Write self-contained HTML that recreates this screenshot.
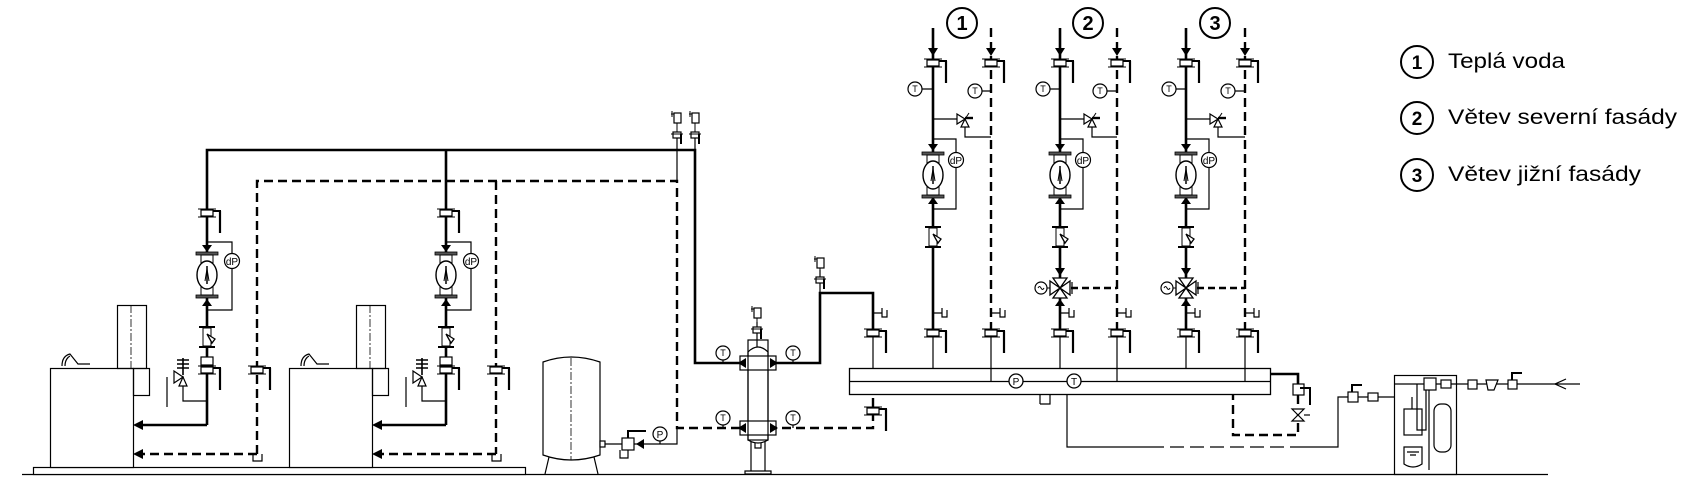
<!DOCTYPE html>
<html><head><meta charset="utf-8"><style>
html,body{margin:0;padding:0;background:#fff;}
svg{display:block;}
text{font-family:"Liberation Sans",Arial,sans-serif;}
</style></head><body>
<svg width="1696" height="491" viewBox="0 0 1696 491" xmlns="http://www.w3.org/2000/svg">
<defs>
<g id="vl">
 <line x1="-9" y1="-4" x2="9" y2="-4" stroke="#000" stroke-width="1"/>
 <line x1="-9" y1="4" x2="9" y2="4" stroke="#000" stroke-width="1"/>
 <rect x="-6" y="-3" width="12" height="6" fill="#fff" stroke="#000" stroke-width="1.2"/>
 <line x1="6" y1="-2" x2="14" y2="-2" stroke="#000" stroke-width="2"/>
 <line x1="13" y1="-2" x2="13" y2="20" stroke="#000" stroke-width="2.2"/>
</g>
<g id="pump">
 <rect x="-11" y="-23" width="22" height="3" fill="#555" stroke="#000" stroke-width="0.8"/>
 <rect x="-11" y="20" width="22" height="3" fill="#555" stroke="#000" stroke-width="0.8"/>
 <rect x="-6" y="-20" width="12" height="40" fill="#fff" stroke="#000" stroke-width="1"/>
 <ellipse cx="0" cy="0" rx="10" ry="14" fill="#fff" stroke="#000" stroke-width="1.4"/>
 <line x1="0" y1="-9" x2="0" y2="9" stroke="#000" stroke-width="1.5"/>
 <path d="M-2,6 L0,-6 L2,6" fill="none" stroke="#000" stroke-width="1"/>
</g>
<g id="strainer">
 <line x1="-8" y1="-10" x2="8" y2="-10" stroke="#000" stroke-width="2"/>
 <line x1="-8" y1="10" x2="8" y2="10" stroke="#000" stroke-width="2"/>
 <rect x="-4" y="-9" width="8" height="18" fill="#fff" stroke="#000" stroke-width="1"/>
 <path d="M0,-3 L8,2 L5,6 Z" fill="#fff" stroke="#000" stroke-width="1.3"/>
</g>
<g id="drain">
 <path d="M0,0 H9 M9,-5 V4 H14 V-3" fill="none" stroke="#000" stroke-width="1.2"/>
</g>
<g id="vent">
 <rect x="-3" y="-7" width="7" height="10" fill="#fff" stroke="#000" stroke-width="1.2"/>
 <line x1="-6" y1="-6" x2="-3" y2="-6" stroke="#000" stroke-width="1"/>
 <line x1="-5" y1="-9" x2="-5" y2="-3" stroke="#000" stroke-width="1"/>
 <line x1="0" y1="3" x2="0" y2="13" stroke="#000" stroke-width="1"/>
 <rect x="-4" y="12" width="8" height="6" fill="#fff" stroke="#000" stroke-width="1.2"/>
 <line x1="-6" y1="14" x2="6" y2="14" stroke="#000" stroke-width="1"/>
 <line x1="4" y1="14" x2="4" y2="24" stroke="#000" stroke-width="2"/>
</g>
<g id="mix">
 <path d="M-7,-10 H7 L0,0 Z M-7,10 H7 L0,0 Z M-10,-7 V7 L0,0 Z M10,-7 V7 L0,0 Z" fill="#fff" stroke="#000" stroke-width="1.3"/>
 <line x1="12" y1="-6" x2="12" y2="6" stroke="#000" stroke-width="1.2"/>
 <line x1="-10" y1="0" x2="-14" y2="0" stroke="#000" stroke-width="1"/>
 <circle cx="-19" cy="0" r="6" fill="#fff" stroke="#000" stroke-width="1.2"/>
 <path d="M-22,0 q1.5,-3 3,0 t3,0" fill="none" stroke="#000" stroke-width="1"/>
</g>
<g id="bal">
 <path d="M-8,-5 L0,0 L-8,5 Z" fill="#fff" stroke="#000" stroke-width="1.2"/>
 <path d="M-4,8 L0,0 L4,8 Z" fill="#fff" stroke="#000" stroke-width="1.2"/>
 <line x1="0" y1="-1" x2="8" y2="-1" stroke="#000" stroke-width="2.4"/>
 <line x1="0" y1="0" x2="4" y2="-6" stroke="#000" stroke-width="1"/>
</g>
</defs>

<g fill="none" stroke="#000">
<!-- ground & platform -->
<line x1="22" y1="474.5" x2="1548" y2="474.5" stroke-width="1.3"/>
<rect x="33.5" y="467.5" width="492" height="7" stroke-width="1.2" fill="#fff"/>

<!-- boilers -->
<g stroke-width="1.2">
<rect x="50.5" y="368.5" width="83" height="99" fill="#fff"/>
<rect x="133.5" y="368.5" width="16" height="27"/>
<rect x="117.5" y="305.5" width="29" height="63"/>
<line x1="131" y1="305" x2="131" y2="368" stroke-dasharray="8 2 2 2" stroke-width="0.8"/>
<path d="M62,366 C62,358 66,355 70,354 L78,364 H90" />
<path d="M65,366 C65,360 68,357 70,356"/>
<rect x="289.5" y="368.5" width="83" height="99" fill="#fff"/>
<rect x="372.5" y="368.5" width="16" height="27"/>
<rect x="356.5" y="305.5" width="29" height="63"/>
<line x1="370" y1="305" x2="370" y2="368" stroke-dasharray="8 2 2 2" stroke-width="0.8"/>
<path d="M301,366 C301,358 305,355 309,354 L317,364 H329" />
<path d="M304,366 C304,360 307,357 309,356"/>
</g>

<!-- thick supply network left -->
<path d="M207,425 V150 H695 V363 H748" stroke-width="2.6"/>
<path d="M446,150 V425" stroke-width="2.6"/>
<path d="M207,425 H140" stroke-width="2.6"/>
<path d="M446,425 H379" stroke-width="2.6"/>
<path d="M768,363 H820 V293 H873 V333" stroke-width="2.6"/>

<!-- dashed return left -->
<path d="M257,454 V181 H677 V428 H748" stroke-width="2.4" stroke-dasharray="9 5"/>
<path d="M496,181 V454" stroke-width="2.4" stroke-dasharray="9 5"/>
<path d="M257,454 H140" stroke-width="2.4" stroke-dasharray="9 5"/>
<path d="M496,454 H379" stroke-width="2.4" stroke-dasharray="9 5"/>
<path d="M768,428 H873 V394" stroke-width="2.4" stroke-dasharray="9 5"/>

<!-- thin lines -->
<g stroke-width="1.2">
<path d="M677,137 V181"/>
<path d="M695,137 V150"/>
<path d="M677,428 V444 H605"/>
<path d="M757,322 V347"/>
<path d="M820,270 V293"/>
<!-- boiler gauge loops -->
<path d="M207,242 H232 V254 M232,268 V310 H207"/>
<path d="M446,242 H471 V254 M471,268 V310 H446"/>
<path d="M183,385 V401 H207 M167,377 V407"/>
<path d="M422,385 V401 H446 M406,377 V407"/>
</g>
<!-- drains at bottom of dashed -->
<path d="M253,454 V461 H262 V454" stroke-width="1.2"/>
<path d="M492,454 V461 H501 V454" stroke-width="1.2"/>
</g>

<!-- arrows into boilers -->
<g fill="#000">
<polygon points="133,425 143,420 143,430"/>
<polygon points="372,425 382,420 382,430"/>
<polygon points="133,454 143,449 143,459"/>
<polygon points="372,454 382,449 382,459"/>
</g>

<!-- boiler branch components -->
<g>
<use href="#vl" x="207" y="213"/>
<polygon points="202,245 212,245 207,252" fill="#000"/>
<use href="#pump" x="207" y="275"/>
<polygon points="202,306 212,306 207,299" fill="#000"/>
<use href="#strainer" x="207" y="337"/>
<rect x="201" y="357" width="12" height="8" fill="#fff" stroke="#000" stroke-width="1.2"/>
<use href="#vl" x="207" y="370"/>
<use href="#vl" x="257" y="370"/>
<use href="#vl" x="446" y="213"/>
<polygon points="441,245 451,245 446,252" fill="#000"/>
<use href="#pump" x="446" y="275"/>
<polygon points="441,306 451,306 446,299" fill="#000"/>
<use href="#strainer" x="446" y="337"/>
<rect x="440" y="357" width="12" height="8" fill="#fff" stroke="#000" stroke-width="1.2"/>
<use href="#vl" x="446" y="370"/>
<use href="#vl" x="496" y="370"/>
<!-- safety valves -->
<g stroke="#000" fill="#fff" stroke-width="1.2">
<path d="M174,371 L183,377 L174,383 Z"/><path d="M179,386 L183,377 L187,386 Z"/>
<path d="M177,360 h12 M177,364 h12 M177,368 h12 M183,358 V375" fill="none" stroke-width="1.6"/>
<path d="M413,371 L422,377 L413,383 Z"/><path d="M418,386 L422,377 L426,386 Z"/>
<path d="M416,360 h12 M416,364 h12 M416,368 h12 M422,358 V375" fill="none" stroke-width="1.6"/>
</g>
<!-- dP gauges -->
<g stroke="#000" fill="#fff" stroke-width="1.2">
<circle cx="232" cy="261" r="7.5"/><circle cx="471" cy="261" r="7.5"/>
</g>
<text x="232" y="265" font-size="10" text-anchor="middle">dP</text>
<text x="471" y="265" font-size="10" text-anchor="middle">dP</text>
</g>

<!-- expansion tank -->
<g stroke="#000" stroke-width="1.2" fill="#fff">
<path d="M543,455 V362 Q571,352 600,362 V455 Q571,465 543,455 Z"/>
<line x1="571" y1="358" x2="571" y2="460" stroke-dasharray="8 2 2 2" stroke-width="0.8"/>
<path d="M549,457 L545,474 M594,457 L598,474" fill="none"/>
<rect x="600" y="441" width="5" height="6"/>
<rect x="622" y="438" width="12" height="12"/>
<path d="M628,438 V431 H646" fill="none" stroke-width="2"/>
<path d="M628,450 V458 H620 V450" fill="none"/>
<circle cx="660" cy="434" r="7"/>
<line x1="660" y1="441" x2="660" y2="444"/>
</g>
<polygon points="636,444 644,439 644,449" fill="#000"/>
<text x="660" y="438" font-size="10" text-anchor="middle">P</text>

<!-- top vents -->
<use href="#vent" x="677" y="120"/>
<use href="#vent" x="695" y="120"/>
<use href="#vent" x="757" y="315"/>
<use href="#vent" x="820" y="265"/>

<!-- hydraulic separator -->
<g stroke="#000" stroke-width="1.2" fill="#fff">
<path d="M748,440 V352 Q758,342 768,352 V440 Q758,446 748,440 Z"/>
<path d="M751,442 V471 M765,442 V471 M745,471 H771 V474 H745 Z"/>
<rect x="740" y="356" width="36" height="14"/>
<rect x="740" y="421" width="36" height="14"/>
<rect x="748" y="340" width="20" height="100" fill="none"/>
<line x1="723" y1="360" x2="723" y2="363"/><line x1="793" y1="360" x2="793" y2="363"/>
<line x1="723" y1="425" x2="723" y2="428"/><line x1="793" y1="425" x2="793" y2="428"/>
<circle cx="723" cy="353" r="7"/><circle cx="793" cy="353" r="7"/>
<circle cx="723" cy="418" r="7"/><circle cx="793" cy="418" r="7"/>
<path d="M755,443 V448 H761 V443" fill="none"/>
</g>
<g fill="#000">
<polygon points="738,363 746,358 746,368"/><polygon points="778,363 770,358 770,368"/>
<polygon points="738,428 746,423 746,433"/><polygon points="778,428 770,423 770,433"/>
</g>
<g font-size="9" text-anchor="middle">
<text x="723" y="356">T</text><text x="793" y="356">T</text>
<text x="723" y="421">T</text><text x="793" y="421">T</text>
</g>

<!-- header -->
<g stroke="#000" stroke-width="1.3" fill="#fff">
<rect x="849.5" y="368.5" width="421" height="26"/>
<line x1="849" y1="381.5" x2="1271" y2="381.5"/>
<circle cx="1016" cy="381" r="7"/><circle cx="1074" cy="381" r="7"/>
</g>
<text x="1016" y="385" font-size="10" text-anchor="middle">P</text>
<text x="1074" y="385" font-size="10" text-anchor="middle">T</text>

<!-- header thin connections -->
<g stroke="#000" stroke-width="1.2" fill="none">
<path d="M873,333 V368 M933,333 V368 M1060,333 V368 M1186,333 V368"/>
<path d="M991,333 V381 M1117,333 V381 M1245,333 V381"/>
<!-- bottom drain line -->
<path d="M1040,404 V395 M1040,404 H1050 V395 M1067,394 V447 H1150"/>
<path d="M1150,447 H1290" stroke-dasharray="14 6"/>
<path d="M1290,447 H1338 V397 H1394"/>
<path d="M1394,384 H1580"/>
</g>
<use href="#vl" x="873" y="333"/>
<use href="#drain" x="873" y="313"/>
<use href="#vl" x="873" y="411"/>

<!-- header right side -->
<path d="M1271,374 H1298 V384" stroke="#000" stroke-width="2.6" fill="none"/>
<path d="M1298,395 V435 H1233 V394" stroke="#000" stroke-width="2.4" stroke-dasharray="9 5" fill="none"/>
<g stroke="#000" stroke-width="1.2" fill="#fff">
<rect x="1293" y="384" width="11" height="11"/>
<path d="M1300,388 H1310 V405" fill="none" stroke-width="2"/>
<path d="M1292,409 H1304 L1292,421 H1304 Z"/>
<line x1="1304" y1="415" x2="1310" y2="415"/>
</g>

<!-- circuits -->
<g id="circ">
</g>
<g stroke="#000" fill="none">
<!-- circuit 1 -->
<path d="M933,28 V333" stroke-width="2.6"/>
<path d="M991,28 V333" stroke-width="2.4" stroke-dasharray="9 5"/>
<!-- circuit 2 -->
<path d="M1060,28 V333" stroke-width="2.6"/>
<path d="M1117,28 V333" stroke-width="2.4" stroke-dasharray="9 5"/>
<!-- circuit 3 -->
<path d="M1186,28 V333" stroke-width="2.6"/>
<path d="M1245,28 V333" stroke-width="2.4" stroke-dasharray="9 5"/>
<g stroke-width="1.2">
<path d="M933,89 H922 M991,91 H982 M1060,89 H1050 M1117,91 H1107 M1186,89 H1176 M1245,91 H1235"/>
<path d="M933,119 H957 M965,124 V137 H991 M1060,119 H1084 M1092,124 V137 H1117 M1186,119 H1210 M1218,124 V137 H1245"/>
<path d="M933,139 H956 V152 M956,167 V209 H933 M1060,139 H1083 V152 M1083,167 V209 H1060 M1186,139 H1209 V152 M1209,167 V209 H1186"/>
</g>
<path d="M1071,288 H1117 M1197,288 H1245" stroke-width="2.4" stroke-dasharray="7 4"/>
</g>
<g fill="#000">
<polygon points="928,48 938,48 933,56"/><polygon points="986,48 996,48 991,56"/>
<polygon points="1055,48 1065,48 1060,56"/><polygon points="1112,48 1122,48 1117,56"/>
<polygon points="1181,48 1191,48 1186,56"/><polygon points="1240,48 1250,48 1245,56"/>
<polygon points="928,144 938,144 933,151"/><polygon points="1055,144 1065,144 1060,151"/><polygon points="1181,144 1191,144 1186,151"/>
<polygon points="928,204 938,204 933,197"/><polygon points="1055,204 1065,204 1060,197"/><polygon points="1181,204 1191,204 1186,197"/>
<polygon points="1055,268 1065,268 1060,276"/><polygon points="1181,268 1191,268 1186,276"/>
<polygon points="1055,306 1065,306 1060,299"/><polygon points="1181,306 1191,306 1186,299"/>
</g>
<g>
<use href="#vl" x="933" y="63"/><use href="#vl" x="991" y="63"/>
<use href="#vl" x="1060" y="63"/><use href="#vl" x="1117" y="63"/>
<use href="#vl" x="1186" y="63"/><use href="#vl" x="1245" y="63"/>
<use href="#vl" x="933" y="333"/><use href="#vl" x="991" y="333"/>
<use href="#vl" x="1060" y="333"/><use href="#vl" x="1117" y="333"/>
<use href="#vl" x="1186" y="333"/><use href="#vl" x="1245" y="333"/>
<use href="#drain" x="933" y="313"/><use href="#drain" x="991" y="313"/>
<use href="#drain" x="1060" y="313"/><use href="#drain" x="1117" y="313"/>
<use href="#drain" x="1186" y="313"/><use href="#drain" x="1245" y="313"/>
<use href="#bal" x="965" y="119"/><use href="#bal" x="1092" y="119"/><use href="#bal" x="1218" y="119"/>
<use href="#pump" x="933" y="175"/><use href="#pump" x="1060" y="175"/><use href="#pump" x="1186" y="175"/>
<use href="#strainer" x="933" y="237"/><use href="#strainer" x="1060" y="237"/><use href="#strainer" x="1186" y="237"/>
<use href="#mix" x="1060" y="288"/><use href="#mix" x="1186" y="288"/>
</g>
<g stroke="#000" stroke-width="1.2" fill="#fff">
<circle cx="915" cy="89" r="7"/><circle cx="975" cy="91" r="7"/>
<circle cx="1043" cy="89" r="7"/><circle cx="1100" cy="91" r="7"/>
<circle cx="1169" cy="89" r="7"/><circle cx="1228" cy="91" r="7"/>
<circle cx="956" cy="160" r="7.5"/><circle cx="1083" cy="160" r="7.5"/><circle cx="1209" cy="160" r="7.5"/>
</g>
<g font-size="9" text-anchor="middle">
<text x="915" y="92">T</text><text x="975" y="94">T</text>
<text x="1043" y="92">T</text><text x="1100" y="94">T</text>
<text x="1169" y="92">T</text><text x="1228" y="94">T</text>
<text x="956" y="164" font-size="10">dP</text><text x="1083" y="164" font-size="10">dP</text><text x="1209" y="164" font-size="10">dP</text>
</g>

<!-- circuit number circles -->
<g stroke="#000" stroke-width="2" fill="#fff">
<circle cx="962" cy="23" r="15"/><circle cx="1088" cy="23" r="15"/><circle cx="1215" cy="23" r="15"/>
</g>
<g font-size="20" font-weight="bold" text-anchor="middle">
<text x="962" y="30">1</text><text x="1088" y="30">2</text><text x="1215" y="30">3</text>
</g>

<!-- make-up water / treatment -->
<g stroke="#000" stroke-width="1.2" fill="#fff">
<rect x="1348" y="392" width="10" height="10"/>
<path d="M1352,392 V385 H1362" fill="none" stroke-width="2"/>
<rect x="1368" y="393" width="10" height="8"/>
<rect x="1394.5" y="375.5" width="62" height="99" fill="none"/>
<path d="M1412,397 V409" fill="none"/>
<rect x="1404" y="409" width="18" height="26"/>
<path d="M1404,447 H1422 V464 Q1413,470 1404,464 Z"/>
<path d="M1407,452 h12 M1410,455 h6" fill="none"/>
<path d="M1417,384 V430 H1426 V385 M1429,385 V470" fill="none"/>
<rect x="1424" y="378" width="12" height="12"/>
<rect x="1441" y="380" width="10" height="8"/>
<rect x="1434" y="404" width="17" height="48" rx="7"/>
<rect x="1468" y="380" width="9" height="9"/>
<path d="M1486,380 H1498 L1494,390 H1488 Z"/>
<rect x="1508" y="380" width="9" height="9"/>
<path d="M1512,380 V373 H1522" fill="none" stroke-width="2"/>
<path d="M1566,379 L1555,384 L1566,389" fill="none"/>
</g>

<!-- legend -->
<g stroke="#000" stroke-width="2" fill="#fff">
<circle cx="1417" cy="62" r="16"/><circle cx="1417" cy="118" r="16"/><circle cx="1417" cy="175" r="16"/>
</g>
<g font-size="19" font-weight="bold" text-anchor="middle">
<text x="1417" y="69">1</text><text x="1417" y="125">2</text><text x="1417" y="182">3</text>
</g>
<g font-size="21">
<text x="1448" y="68" textLength="117" lengthAdjust="spacingAndGlyphs">Teplá voda</text>
<text x="1448" y="124" textLength="229" lengthAdjust="spacingAndGlyphs">Větev severní fasády</text>
<text x="1448" y="181" textLength="193" lengthAdjust="spacingAndGlyphs">Větev jižní fasády</text>
</g>
</svg>
</body></html>
